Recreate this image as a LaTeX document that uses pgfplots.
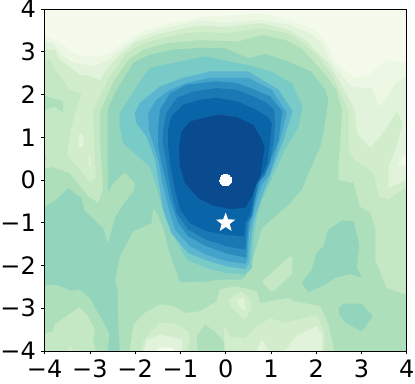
\documentclass[border=0pt]{standalone}
\usepackage{fontspec}
\setmainfont{DejaVu Sans}
\usepackage{pgfplots}
\pgfplotsset{compat=1.18}

\definecolor{lv0}{HTML}{F5FBEC}
\definecolor{lv1}{HTML}{ECF8E4}
\definecolor{lv2}{HTML}{E1F3DB}
\definecolor{lv3}{HTML}{D2EDCB}
\definecolor{lv4}{HTML}{C4E8C4}
\definecolor{lv5}{HTML}{AEDFBB}
\definecolor{lv6}{HTML}{93D4BD}
\definecolor{lv7}{HTML}{78CBC6}
\definecolor{lv8}{HTML}{5CB6CF}
\definecolor{lv9}{HTML}{43A3CB}
\definecolor{lv10}{HTML}{2A8CBF}
\definecolor{lv11}{HTML}{1A78B4}
\definecolor{lv12}{HTML}{0A64A8}
\definecolor{lv13}{HTML}{094B8E}

\pgfdeclareplotmark{fstar}{%
  \pgfpathmoveto{\pgfqpointpolar{90}{\pgfplotmarksize}}%
  \pgfpathlineto{\pgfpointpolar{126}{0.42\pgfplotmarksize}}%
  \pgfpathlineto{\pgfqpointpolar{162}{\pgfplotmarksize}}%
  \pgfpathlineto{\pgfpointpolar{198}{0.42\pgfplotmarksize}}%
  \pgfpathlineto{\pgfqpointpolar{234}{\pgfplotmarksize}}%
  \pgfpathlineto{\pgfpointpolar{270}{0.42\pgfplotmarksize}}%
  \pgfpathlineto{\pgfqpointpolar{306}{\pgfplotmarksize}}%
  \pgfpathlineto{\pgfpointpolar{342}{0.42\pgfplotmarksize}}%
  \pgfpathlineto{\pgfqpointpolar{18}{\pgfplotmarksize}}%
  \pgfpathlineto{\pgfpointpolar{54}{0.42\pgfplotmarksize}}%
  \pgfpathclose\pgfusepathqfill}

\begin{document}
\begin{tikzpicture}
\begin{axis}[
    name=ax, at={(0,0)}, anchor=south west,
    scale only axis, width=271.5pt, height=256.5pt,
    xmin=-4, xmax=4, ymin=-4, ymax=4,
    xtick={-4,...,4}, ytick={-4,...,4},
    xticklabels={−4,−3,−2,−1,0,1,2,3,4},
    yticklabels={−4,−3,−2,−1,0,1,2,3,4},
    tick align=outside, tick pos=left,
    major tick length=2.6pt,
    tick style={black, line width=0.6pt},
    axis line style={line width=0.7pt},
    tick label style={font=\fontsize{18}{18}\selectfont},
    xticklabel style={yshift=-0.5pt},
    yticklabel style={xshift=-0.5pt},
    axis on top,
    every axis plot/.append style={draw=none, forget plot},
]
% contour levels, lightest first
\addplot[fill=lv0] coordinates {(-4.1,-4.1) (4.1,-4.1) (4.1,4.1) (-4.1,4.1)} -- cycle;
\addplot[fill=lv1] coordinates {(-4.1,3.40) (-3.70,3.24) (-3.30,2.93) (-2.89,2.88) (-2.56,2.97) (-2.27,3.20) (-1.90,3.44) (-1.45,3.61) (-1.01,3.71) (-0.46,3.83) (0.28,3.85) (0.80,3.90) (1.39,3.75) (1.90,3.55) (2.20,3.28) (2.31,3.01) (2.49,2.70) (2.83,2.39) (3.16,2.46) (3.38,2.66) (3.60,2.83) (3.90,2.73) (4.1,2.81) (4.1,-4.1) (-4.1,-4.1)} -- cycle;
\addplot[fill=lv2] coordinates {(-4.1,3.28) (-3.82,3.20) (-3.63,2.93) (-3.37,2.74) (-2.89,2.66) (-2.60,2.81) (-2.27,3.09) (-1.90,3.34) (-1.45,3.52) (-1.01,3.63) (-0.57,3.73) (-0.01,3.68) (0.80,3.75) (1.39,3.63) (1.83,3.44) (2.13,3.21) (2.27,2.86) (2.49,2.54) (2.79,2.17) (3.23,2.15) (3.38,1.72) (3.60,1.96) (3.75,2.26) (4.1,2.49) (4.1,-4.1) (-4.1,-4.1)} -- cycle;
\addplot[fill=lv3] coordinates {(-4.1,3.06) (-3.78,3.05) (-3.67,2.81) (-3.41,2.62) (-3.23,2.46) (-3.00,2.44) (-2.78,2.33) (-2.63,2.58) (-2.41,2.85) (-2.04,3.20) (-1.53,3.40) (-1.01,3.53) (-0.57,3.61) (-0.01,3.58) (0.80,3.67) (1.39,3.51) (1.76,3.27) (2.05,2.96) (2.27,2.74) (2.49,2.34) (2.64,2.07) (2.86,1.61) (2.90,1.10) (3.20,0.75) (3.45,1.06) (3.79,1.61) (3.91,1.33) (3.75,0.71) (3.60,0.32) (3.60,-0.19) (4.1,0.05) (4.1,-4.1) (-4.1,-4.1)} -- cycle;
% paler specks in the strip near x=-3 and at the right edge
\addplot[fill=lv2] coordinates {(-3.24,1.06) (-3.19,1.11) (-3.13,0.98) (-3.15,0.79) (-3.23,0.75) (-3.26,0.90)} -- cycle;
\addplot[fill=lv2] coordinates {(-3.02,0.59) (-2.99,0.59) (-2.99,0.32) (-3.03,0.32)} -- cycle;
\addplot[fill=lv1] coordinates {(3.80,0.34) (3.90,0.52) (4.1,0.75) (4.1,0.34)} -- cycle;
\addplot[fill=lv4] coordinates {(-4.1,2.85) (-3.89,2.81) (-3.74,2.54) (-3.59,2.35) (-3.45,2.11) (-3.19,2.03) (-3.41,1.25) (-3.51,0.59) (-3.00,-0.05) (-2.87,0.05) (-2.93,1.61) (-2.75,2.03) (-2.60,2.35) (-2.19,2.97) (-1.82,3.20) (-1.31,3.34) (-0.86,3.44) (-0.46,3.46) (-0.01,3.43) (0.80,3.55) (1.39,3.43) (1.76,3.16) (2.05,2.88) (2.35,2.46) (2.57,1.96) (2.72,1.61) (2.72,0.71) (2.83,0.48) (3.27,0.16) (3.38,-0.38) (3.60,-0.46) (4.1,-0.10) (4.1,-4.1) (-4.1,-4.1)} -- cycle;
\addplot[fill=lv5] coordinates {(-4.1,0.24) (-3.82,0.30) (-3.45,0.16) (-3.04,-0.38) (-2.82,-0.54) (-2.71,-0.23) (-2.78,1.02) (-2.78,1.57) (-2.60,2.03) (-2.45,2.35) (-2.15,2.81) (-1.82,3.05) (-1.31,3.20) (-0.57,3.27) (0.28,3.24) (0.80,3.39) (1.31,3.28) (1.68,3.08) (1.98,2.73) (2.24,2.42) (2.46,2.07) (2.57,1.64) (2.53,0.86) (2.49,0.31) (2.49,0.00) (2.83,-0.07) (2.96,-0.62) (3.20,-0.77) (3.31,-1.16) (3.31,-1.90) (3.38,-2.06) (3.56,-2.53) (3.97,-2.68) (4.1,-2.62) (4.1,-4.1) (-4.1,-4.1)} -- cycle;
\addplot[fill=lv5] coordinates {(-4.1,2.00) (-3.59,1.84) (-3.59,1.57) (-3.78,1.72) (-4.1,1.61)} -- cycle;
\addplot[fill=lv5] coordinates {(-4.1,0.71) (-3.95,0.48) (-4.1,0.32)} -- cycle;
% paler patches low down
\addplot[fill=lv4] coordinates {(0.80,-2.37) (1.13,-2.06) (1.42,-1.79) (1.48,-1.79) (1.46,-2.21) (1.06,-2.60) (0.98,-2.60)} -- cycle;
\addplot[fill=lv4] coordinates {(-4.1,-3.62) (-3.82,-3.54) (-3.78,-3.38) (-3.52,-3.19) (-3.23,-2.97) (-3.04,-3.19) (-2.89,-3.50) (-2.93,-3.77) (-2.84,-4.1) (-4.1,-4.1)} -- cycle;
\addplot[fill=lv3] coordinates {(-3.59,-4.1) (-3.41,-3.87) (-3.34,-4.1)} -- cycle;
\addplot[fill=lv4] coordinates {(-2.13,-4.1) (-2.04,-3.38) (-1.79,-3.11) (-1.45,-2.91) (-1.16,-2.95) (-0.90,-3.11) (-0.57,-3.07) (-0.35,-2.93) (-0.20,-2.84) (-0.13,-2.56) (0.21,-2.49) (0.69,-2.60) (0.76,-2.88) (1.39,-2.76) (1.54,-2.84) (2.09,-2.95) (2.27,-3.38) (2.42,-4.1)} -- cycle;
\addplot[fill=lv5] coordinates {(-0.61,-4.1) (-0.64,-3.66) (-0.46,-3.38) (-0.24,-3.54) (-0.05,-3.77) (-0.01,-4.1)} -- cycle;
\addplot[fill=lv3] coordinates {(-1.90,-4.1) (-1.82,-3.77) (-1.64,-3.54) (-1.45,-3.34) (-1.16,-3.34) (-0.83,-3.54) (-0.79,-3.77) (-0.90,-4.1)} -- cycle;
\addplot[fill=lv2] coordinates {(-1.82,-4.1) (-1.75,-3.73) (-1.45,-3.62) (-0.95,-3.73) (-0.97,-4.1)} -- cycle;
\addplot[fill=lv0] coordinates {(-1.64,-4.1) (-1.45,-3.91) (-1.16,-3.94) (-1.08,-4.1)} -- cycle;
\addplot[fill=lv3] coordinates {(-0.05,-3.38) (0.10,-3.66) (0.43,-3.71) (0.69,-3.42) (0.98,-3.23) (1.31,-3.34) (2.01,-3.15) (2.18,-3.54) (2.16,-4.1) (-0.01,-4.1)} -- cycle;
\addplot[fill=lv2] coordinates {(0.65,-4.1) (0.80,-3.73) (1.02,-4.1)} -- cycle;
\addplot[fill=lv2] coordinates {(1.24,-4.1) (1.54,-3.66) (2.01,-3.42) (2.14,-3.62) (2.14,-4.1)} -- cycle;
\addplot[fill=lv3] coordinates {(0.06,-2.80) (0.35,-2.60) (0.54,-2.80) (0.58,-2.99) (0.43,-3.27) (0.13,-2.99)} -- cycle;
\addplot[fill=lv2] coordinates {(0.24,-2.80) (0.41,-2.76) (0.44,-3.05) (0.32,-2.99)} -- cycle;
% level 6 wraps the core and runs down the lower left
\addplot[fill=lv6] coordinates {(-4.1,-0.69) (-3.74,-0.46) (-3.48,-0.19) (-3.19,-0.42) (-3.11,-0.73) (-2.71,-1.12) (-2.60,-1.50) (-2.45,-0.89) (-2.27,-0.58) (-2.01,-0.23) (-2.01,-0.07) (-2.23,0.18) (-2.45,-0.03) (-2.60,-0.27) (-2.61,0.71) (-2.61,1.64) (-2.45,2.03) (-2.27,2.35) (-2.04,2.74) (-1.68,2.93) (-1.16,3.05) (-0.57,3.09) (-0.01,3.08) (0.50,2.85) (0.87,2.95) (1.39,2.77) (1.90,2.53) (2.20,2.11) (2.27,1.87) (2.16,1.09) (2.09,0.78) (1.83,0.16) (1.68,-0.23) (1.39,-0.58) (0.80,-1.12) (0.65,-1.67) (0.46,-2.21) (0.35,-2.33) (-0.16,-2.33) (-0.46,-2.38) (-1.01,-2.39) (-1.12,-2.06) (-1.27,-1.59) (-1.38,-1.12) (-1.49,-0.85) (-1.60,-0.65) (-1.64,-1.01) (-2.04,-1.20) (-2.34,-1.78) (-2.45,-2.37) (-2.38,-2.60) (-2.38,-3.23) (-2.34,-4.1) (-2.63,-4.1) (-2.56,-3.62) (-2.63,-3.46) (-2.82,-3.11) (-3.00,-2.76) (-3.23,-2.56) (-3.41,-2.59) (-3.74,-2.45) (-4.1,-2.46)} -- cycle;
\addplot[fill=lv6] coordinates {(1.68,-2.41) (1.90,-2.10) (2.01,-1.71) (2.16,-1.55) (2.27,-1.16) (2.57,-0.95) (2.83,-0.97) (2.95,-1.51) (2.90,-2.06) (3.01,-2.29) (2.75,-2.20) (2.42,-2.29) (2.13,-2.49) (1.83,-2.62)} -- cycle;
\addplot[fill=lv6] coordinates {(2.51,-2.99) (2.61,-2.89) (3.01,-2.89) (3.25,-3.19) (3.01,-3.54) (2.64,-3.34) (2.51,-3.15)} -- cycle;
\addplot[fill=lv7] coordinates {(-2.35,1.33) (-2.34,1.57) (-1.97,2.19) (-1.68,2.62) (-1.16,2.74) (-0.46,2.89) (0.28,2.73) (0.50,2.69) (1.02,2.53) (1.46,2.26) (1.70,1.72) (1.61,1.25) (1.31,0.71) (0.94,-0.15) (0.80,-0.46) (0.69,-0.85) (0.63,-1.24) (0.58,-2.06) (0.43,-2.21) (0.02,-2.17) (-0.42,-2.06) (-0.86,-1.86) (-1.16,-1.28) (-1.33,-0.89) (-1.49,-0.30) (-1.54,-0.11) (-1.68,0.32) (-1.93,0.55) (-2.27,0.87)} -- cycle;
\addplot[fill=lv8] coordinates {(-2.01,1.57) (-1.90,1.80) (-1.45,2.19) (-0.94,2.39) (-0.35,2.54) (0.50,2.54) (1.17,2.11) (1.48,1.61) (1.28,0.94) (0.98,0.09) (0.87,-0.19) (0.75,-0.54) (0.63,-0.93) (0.58,-1.24) (0.52,-1.94) (0.43,-2.08) (0.02,-2.02) (-0.42,-1.88) (-0.83,-1.71) (-1.20,-1.24) (-1.38,-0.69) (-1.47,-0.11) (-1.56,0.48) (-1.75,1.02) (-1.97,1.33)} -- cycle;
\addplot[fill=lv9] coordinates {(-1.70,1.18) (-1.71,1.57) (-1.53,1.88) (-1.23,2.11) (-0.86,2.27) (-0.35,2.39) (0.50,2.39) (1.02,2.11) (1.35,1.57) (1.20,0.94) (0.98,0.16) (0.80,-0.11) (0.69,-0.46) (0.58,-0.93) (0.52,-1.24) (0.48,-1.86) (0.43,-1.96) (0.02,-1.90) (-0.42,-1.75) (-0.79,-1.55) (-1.12,-1.16) (-1.27,-0.62) (-1.39,-0.11) (-1.49,0.48)} -- cycle;
\addplot[fill=lv10] coordinates {(-1.49,1.25) (-1.45,1.64) (-1.23,2.03) (-0.86,2.23) (-0.20,2.31) (0.24,2.27) (0.65,2.11) (0.98,1.96) (1.25,1.61) (1.17,0.94) (0.94,0.32) (0.80,0.09) (0.66,-0.38) (0.54,-0.85) (0.50,-1.16) (0.45,-1.82) (0.02,-1.72) (-0.42,-1.55) (-0.83,-1.32) (-1.05,-1.00) (-1.23,-0.46) (-1.31,-0.07) (-1.42,0.40) (-1.49,0.79)} -- cycle;
\addplot[fill=lv11] coordinates {(-1.38,1.18) (-1.31,1.57) (-1.08,1.92) (-0.72,2.07) (-0.20,2.15) (0.24,2.11) (0.61,1.96) (0.91,1.80) (1.07,1.64) (1.09,1.33) (1.06,0.87) (0.97,0.40) (0.87,0.12) (0.72,-0.07) (0.63,-0.54) (0.58,-0.85) (0.48,-1.01) (0.43,-1.63) (0.02,-1.55) (-0.42,-1.40) (-0.83,-1.16) (-1.08,-0.77) (-1.20,-0.30) (-1.31,0.40) (-1.39,0.87)} -- cycle;
\addplot[fill=lv12] coordinates {(-1.27,1.18) (-1.20,1.49) (-0.94,1.76) (-0.57,1.88) (-0.20,1.92) (0.24,1.84) (0.61,1.68) (0.91,1.49) (1.02,1.33) (0.98,0.87) (0.92,0.40) (0.83,0.16) (0.69,-0.03) (0.60,-0.46) (0.54,-0.81) (0.43,-1.01) (0.41,-1.32) (0.02,-1.28) (-0.42,-1.20) (-0.79,-1.01) (-1.01,-0.69) (-1.12,-0.23) (-1.22,0.32) (-1.27,0.79)} -- cycle;
\addplot[fill=lv13] coordinates {(-0.79,1.37) (-0.49,1.45) (-0.16,1.53) (0.24,1.47) (0.61,1.29) (0.80,0.94) (0.86,0.75) (0.80,0.32) (0.77,0.09) (0.67,-0.11) (0.58,-0.38) (0.43,-0.65) (0.10,-0.68) (-0.27,-0.60) (-0.61,-0.42) (-0.90,-0.07) (-1.01,0.32) (-1.03,0.79) (-0.97,1.14)} -- cycle;
% markers
\addplot[only marks, mark=*, mark size=4.4pt, mark options={fill=white, draw=white, line width=0pt}] coordinates {(0,0)};
\addplot[only marks, mark=fstar, mark size=7.6pt, mark options={fill=white, draw=none}] coordinates {(0,-1)};
\end{axis}
\pgfresetboundingbox
\path (-33.5pt,-24pt) rectangle (277.75pt,263.25pt);
\end{tikzpicture}
\end{document}
